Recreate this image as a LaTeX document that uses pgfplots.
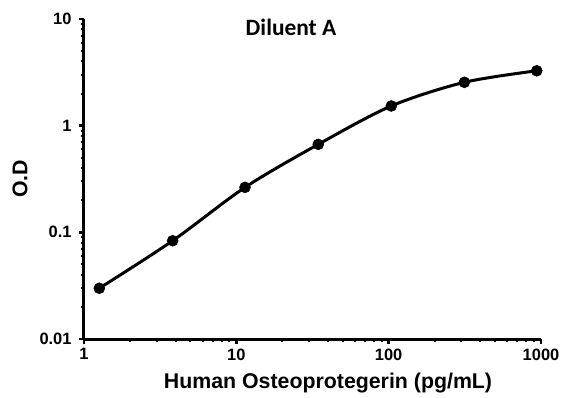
\documentclass[border=0pt]{standalone}
\usepackage{pgfplots}
\pgfplotsset{compat=1.18}
\usepackage{fontspec}
\setmainfont{Liberation Sans}
\newfontfamily\titlefont{Carlito}
\begin{document}
\begin{tikzpicture}
\begin{axis}[
 xmode=log, ymode=log,
 scale only axis, width=457bp, height=320bp,
 xmin=1,xmax=1000,ymin=0.01,ymax=10,
 axis lines*=left, axis line style={line width=3bp},
 tick align=outside,
 major tick length=5bp, minor tick length=3bp,
 every major tick/.style={line width=2.5bp, black},
 every minor tick/.style={line width=2bp, black},
 xtick={1,10,100,1000}, xticklabels={1,10,100,1000},
 ytick={0.01,0.1,1,10}, yticklabels={0.01,0.1,1,10},
 tick label style={font=\fontsize{16.5}{18}\selectfont\bfseries},
 yticklabel style={xshift=-4bp},
 xticklabel style={yshift=-1bp},
 xlabel={Human Osteoprotegerin (pg/mL)},
 ylabel={O.D},
 label style={font=\fontsize{21.4}{24}\selectfont\bfseries},
 xlabel style={at={(axis description cs:0.534,-0.095)}, anchor=north},
 ylabel style={at={(axis description cs:-0.14,0.5)}, anchor=center},
 clip=false,
]
\addplot[black, line width=3bp, smooth, mark=*, mark size=5.5bp, mark options={line width=0.5bp}] coordinates {
 (1.26,0.0299) (3.82,0.0834) (11.4,0.264) (34.5,0.668) (104,1.53) (314,2.55) (938,3.27)
};
\node[font=\titlefont\fontsize{23.5}{26}\selectfont\bfseries] at (rel axis cs:0.453,0.975) {Diluent A};
\end{axis}
\pgfresetboundingbox
\path[use as bounding box] ([xshift=-84bp,yshift=-59bp]current axis.south west) rectangle ([xshift=38bp,yshift=19bp]current axis.north east);
\end{tikzpicture}
\end{document}
